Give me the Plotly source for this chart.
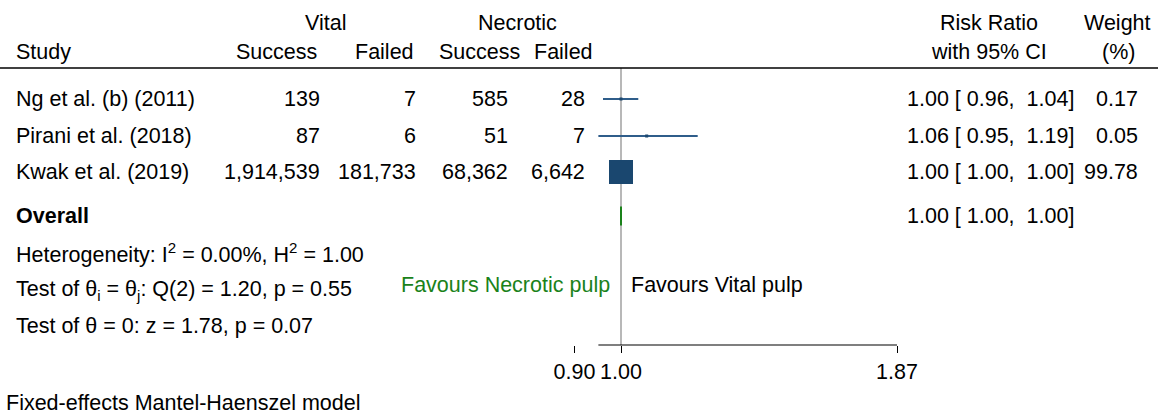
import math
import plotly.graph_objects as go

# ---------------- data ----------------
studies = ["Ng et al. (b) (2011)", "Pirani et al. (2018)", "Kwak et al. (2019)"]
vital_success = [139, 87, 1914539]
vital_failed = [7, 6, 181733]
necrotic_success = [585, 51, 68362]
necrotic_failed = [28, 7, 6642]
rr = [1.00, 1.06, 1.00]
ci_lo = [0.96, 0.95, 1.00]
ci_hi = [1.04, 1.19, 1.00]
weight = [0.17, 0.05, 99.78]
overall_rr = 1.00
overall_lo = 1.00
overall_hi = 1.00
tick_vals = [0.90, 1.00, 1.87]
tick_text = ["0.90", "1.00", "1.87"]
het_lines = [
    "Heterogeneity: I<sup>2</sup> = 0.00%, H<sup>2</sup> = 1.00",
    "Test of θ<sub>i</sub> = θ<sub>j</sub>: Q(2) = 1.20, p = 0.55",
    "Test of θ = 0: z = 1.78, p = 0.07",
]
footer = "Fixed-effects Mantel-Haenszel model"

# ---------------- layout constants (pixels) ----------------
W, H = 1158, 415
FONT = "Liberation Sans, Arial, sans-serif"
FS = 21.5
BLACK = "#000000"
NAVY = "#1a476f"
CI_COL = "#2f5d8a"
GREEN = "#1a821a"
GRAY = "#a0a0a0"

PX_ONE, PX_MAX = 621, 897          # x pixel of RR=1.00 and RR=1.87
px_per_dec = (PX_MAX - PX_ONE) / math.log10(tick_vals[-1])
x_range = [(0 - PX_ONE) / px_per_dec, (W - PX_ONE) / px_per_dec]

Y_HEAD1, Y_HEAD2, Y_RULE = 23, 52, 68
Y_ROWS = [99, 136, 172]
Y_OVERALL = 216
Y_HET = [253, 290, 326]
Y_FAV = 285
Y_AXIS = 345
Y_FOOT = 403

X_STUDY = 14
X_COLS = [322, 418, 510, 587]      # right edges of the four count columns
X_HDR = [276, 384, 480, 563]       # centres of the count column headers
X_RR = 905
X_W = 1140


def px(x):
    return x / W


fig = go.Figure()
annots = []


def txt(x, y, s, anchor="left", color=BLACK, size=FS, bold=False):
    if bold:
        s = "<b>" + s + "</b>"
    annots.append(dict(x=px(x), y=y, xref="paper", yref="y", text=s,
                       showarrow=False, xanchor=anchor, yanchor="middle",
                       font=dict(family=FONT, size=size, color=color)))


# headers
txt(325, Y_HEAD1, "Vital", "center")
txt(517, Y_HEAD1, "Necrotic", "center")
txt(989, Y_HEAD1, "Risk Ratio", "center")
txt(1117, Y_HEAD1, "Weight", "center")
txt(X_STUDY, Y_HEAD2, "Study")
for xc, s in zip(X_HDR, ["Success", "Failed", "Success", "Failed"]):
    txt(xc, Y_HEAD2, s, "center")
txt(989, Y_HEAD2, "with 95% CI", "center")
txt(1118, Y_HEAD2, "(%)", "center")

NB = "\u00a0"
for i, s in enumerate(studies):
    y = Y_ROWS[i]
    txt(X_STUDY, y, s)
    cols = [vital_success[i], vital_failed[i], necrotic_success[i], necrotic_failed[i]]
    for xr, v in zip(X_COLS, cols):
        txt(xr, y, f"{v:,}", "right")
    txt(X_RR, y, f"{rr[i]:.2f} [{NB}{ci_lo[i]:.2f},{NB}{NB}{ci_hi[i]:.2f}]")
    txt(X_W, y, f"{weight[i]:.2f}", "right")

txt(X_STUDY, Y_OVERALL, "Overall", bold=True)
txt(X_RR, Y_OVERALL, f"{overall_rr:.2f} [{NB}{overall_lo:.2f},{NB}{NB}{overall_hi:.2f}]")

for s, y in zip(het_lines, Y_HET):
    txt(X_STUDY, y, s)

txt(612, Y_FAV, "Favours Necrotic pulp", "right", color=GREEN)
txt(629, Y_FAV, "Favours Vital pulp", "left")
txt(4, Y_FOOT, footer)

# CI lines
for i in range(len(studies)):
    fig.add_trace(go.Scatter(x=[ci_lo[i], ci_hi[i]], y=[Y_ROWS[i], Y_ROWS[i]],
                             mode="lines", line=dict(color=CI_COL, width=2),
                             hoverinfo="skip", showlegend=False))
# weighted squares
wmax = max(weight)
sizes = [max(3, 24 * math.sqrt(w / wmax)) for w in weight]
fig.add_trace(go.Scatter(x=rr, y=Y_ROWS, mode="markers", opacity=1,
                         marker=dict(symbol="square", size=sizes, color=NAVY,
                                     opacity=1, line=dict(width=0)),
                         showlegend=False))
# overall diamond
dh = 9.5
fig.add_trace(go.Scatter(x=[overall_lo, overall_rr, overall_hi, overall_rr, overall_lo],
                         y=[Y_OVERALL, Y_OVERALL - dh, Y_OVERALL, Y_OVERALL + dh, Y_OVERALL],
                         mode="lines", fill="toself", fillcolor=GREEN,
                         line=dict(color=GREEN, width=2), showlegend=False))

shapes = [
    dict(type="line", xref="paper", yref="y", x0=0, x1=1, y0=Y_RULE, y1=Y_RULE,
         line=dict(color=BLACK, width=1.5)),
    dict(type="line", xref="x", yref="y", x0=1.0, x1=1.0, y0=Y_RULE, y1=Y_AXIS,
         line=dict(color=GRAY, width=1.5), layer="below"),
    dict(type="line", xref="x", yref="y", x0=min(ci_lo), x1=tick_vals[-1],
         y0=Y_AXIS, y1=Y_AXIS, line=dict(color=BLACK, width=1.2)),
]

fig.update_layout(
    width=W, height=H, margin=dict(l=0, r=0, t=0, b=0),
    paper_bgcolor="white", plot_bgcolor="white",
    annotations=annots, shapes=shapes, showlegend=False,
    xaxis=dict(type="log", range=x_range, domain=[0, 1], anchor="free",
               position=(H - Y_AXIS) / H, showgrid=False, zeroline=False,
               showline=False, tickvals=tick_vals, ticktext=tick_text,
               ticks="outside", ticklen=7, tickwidth=1.2, tickcolor=BLACK,
               tickfont=dict(family=FONT, size=FS, color=BLACK)),
    yaxis=dict(range=[H, 0], domain=[0, 1], visible=False, showgrid=False,
               zeroline=False),
)

fig.write_html("out.html")
